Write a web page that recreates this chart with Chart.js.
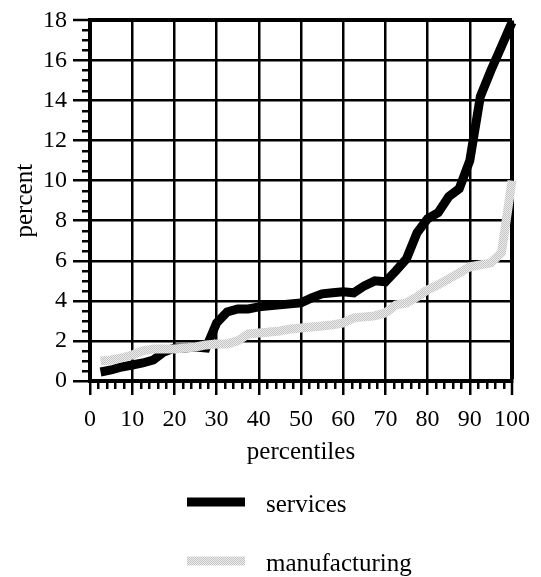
<!DOCTYPE html>
<html>
<head>
<meta charset="utf-8">
<script src="https://cdn.jsdelivr.net/npm/chart.js@4.4.0/dist/chart.umd.min.js"></script>
<style>
  html, body { margin: 0; padding: 0; background: #fff; }
</style>
</head>
<body>
<canvas id="chart" width="541" height="577"></canvas>
<script>
const percentiles = [2.5, 5, 7.5, 10, 12.5, 15, 17.5, 20, 22.5, 25, 27.5, 30, 32.5, 35, 37.5, 40, 42.5, 45, 47.5, 50,
    52.5, 55, 57.5, 60, 62.5, 65, 67.5, 70, 72.5, 75, 77.5, 80, 82.5, 85, 87.5, 90, 92.5, 95, 97.5, 100];
const services = [0.45, 0.55, 0.7, 0.8, 0.9, 1.05, 1.45, 1.65, 1.65, 1.7, 1.65, 2.9, 3.45, 3.6, 3.6, 3.7, 3.75, 3.8, 3.85, 3.9,
    4.15, 4.35, 4.4, 4.45, 4.4, 4.75, 5.0, 4.95, 5.5, 6.1, 7.4, 8.1, 8.4, 9.2, 9.6, 11.0, 14.2, 15.5, 16.7, 17.9];
const manufacturing = [1.0, 1.05, 1.15, 1.3, 1.5, 1.6, 1.6, 1.6, 1.65, 1.7, 1.8, 1.85, 1.85, 2.0, 2.35, 2.4, 2.45, 2.5, 2.6, 2.65,
    2.7, 2.75, 2.8, 2.9, 3.15, 3.2, 3.25, 3.4, 3.8, 3.9, 4.2, 4.55, 4.8, 5.1, 5.4, 5.7, 5.8, 5.9, 6.4, 10.0];
const seriesNames = ['services', 'manufacturing'];
const xLabel = 'percentiles';
const yLabel = 'percent';

const FONT = 'Liberation Serif, Times New Roman, serif';

// dotted light grey look of the manufacturing line
const makePattern = () => {
    const c = document.createElement('canvas');
    c.width = 2;
    c.height = 2;
    const g = c.getContext('2d');
    g.fillStyle = '#ececec';
    g.fillRect(0, 0, 2, 2);
    g.fillStyle = '#c4c4c4';
    g.fillRect(0, 0, 1, 1);
    g.fillRect(1, 1, 1, 1);
    return g.createPattern(c, 'repeat');
};
const grey = makePattern();

const minorTicks = {
    id: 'minorTicks',
    afterDraw(chart) {
        const {ctx, chartArea, scales} = chart;
        ctx.save();
        ctx.strokeStyle = '#000';
        ctx.lineWidth = 2.5;
        ctx.beginPath();
        for (let v = 0.5; v < 18; v += 0.5) {
            if (v % 2 === 0) continue;
            const y = Math.round(scales.y.getPixelForValue(v)) + 0.25;
            ctx.moveTo(chartArea.left - 8, y);
            ctx.lineTo(chartArea.left, y);
        }
        for (let v = 2; v < 100; v += 2) {
            if (v % 10 === 0) continue;
            const x = Math.round(scales.x.getPixelForValue(v)) + 0.25;
            ctx.moveTo(x, chartArea.bottom);
            ctx.lineTo(x, chartArea.bottom + 8);
        }
        ctx.stroke();
        ctx.restore();
    }
};

const stackedLegend = {
    id: 'stackedLegend',
    afterDraw(chart) {
        const {ctx, chartArea} = chart;
        const rows = [chartArea.bottom + 121, chartArea.bottom + 180];
        ctx.save();
        ctx.font = '25px ' + FONT;
        ctx.fillStyle = '#000';
        ctx.textBaseline = 'middle';
        chart.data.datasets.forEach((ds, i) => {
            const y = rows[i];
            ctx.strokeStyle = ds.borderColor;
            ctx.lineWidth = 9;
            ctx.beginPath();
            ctx.moveTo(187, y);
            ctx.lineTo(245, y);
            ctx.stroke();
            ctx.fillText(ds.label, 266, y + 3);
        });
        ctx.restore();
    }
};

const data = {
    datasets: [{
        label: seriesNames[0],
        data: percentiles.map((p, i) => ({x: p, y: services[i]})),
        borderColor: '#000',
        borderWidth: 9,
        pointRadius: 0,
        tension: 0,
        clip: 10,
        order: 1
    }, {
        label: seriesNames[1],
        data: percentiles.map((p, i) => ({x: p, y: manufacturing[i]})),
        borderColor: grey,
        borderWidth: 9,
        pointRadius: 0,
        tension: 0,
        clip: 10,
        order: 0
    }]
};

const options = {
    responsive: false,
    animation: false,
    layout: {
        padding: {left: 0, top: 15, right: 29, bottom: 106}
    },
    scales: {
        x: {
            type: 'linear',
            min: 0,
            max: 100,
            afterFit: (scale) => { scale.height = 90; },
            ticks: {
                stepSize: 10,
                color: '#000',
                padding: 10,
                maxRotation: 0,
                font: {family: FONT, size: 24}
            },
            grid: {
                color: '#000',
                lineWidth: (c) => (c.tick && c.tick.value === 100 ? 4 : 2.5),
                tickLength: 14,
                tickWidth: 2.5,
                tickColor: '#000'
            },
            border: {color: '#000', width: 4},
            title: {
                display: true,
                text: xLabel,
                color: '#000',
                padding: {top: 0, bottom: 4},
                font: {family: FONT, size: 25}
            }
        },
        y: {
            min: 0,
            max: 18,
            afterFit: (scale) => { scale.width = 90; },
            ticks: {
                stepSize: 2,
                color: '#000',
                padding: 6,
                font: {family: FONT, size: 24}
            },
            grid: {
                color: '#000',
                lineWidth: (c) => (c.tick && c.tick.value === 18 ? 4 : 2.5),
                tickLength: 17,
                tickWidth: 2.5,
                tickColor: '#000'
            },
            border: {color: '#000', width: 4},
            title: {
                display: true,
                text: yLabel,
                color: '#000',
                padding: {top: 10, bottom: 0},
                font: {family: FONT, size: 25}
            }
        }
    },
    plugins: {
        legend: {display: false},
        tooltip: {enabled: false}
    }
};

const ctx = document.getElementById('chart').getContext('2d');
new Chart(ctx, {
    type: 'line',
    data: data,
    options: options,
    plugins: [minorTicks, stackedLegend]
});
</script>
</body>
</html>
